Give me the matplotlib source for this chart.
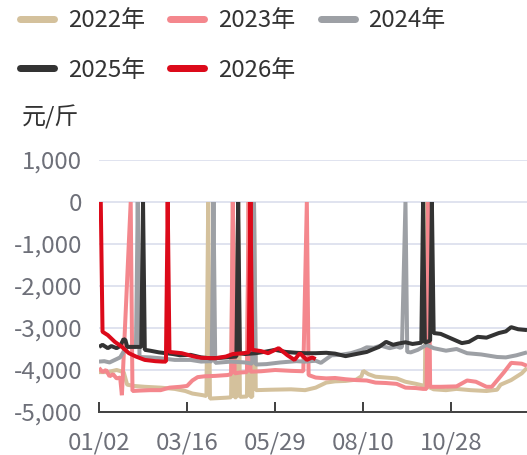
import matplotlib
matplotlib.use('Agg')
import matplotlib.pyplot as plt
from matplotlib.lines import Line2D
from matplotlib.ticker import FuncFormatter

plt.rcParams['font.family'] = ['Noto Sans CJK SC', 'DejaVu Sans']

# ---- data ----
x_labels = ['01/02', '03/16', '05/29', '08/10', '10/28']
x_label_days = [0, 50, 100, 150, 200]
n_days = 244
series_names = ['2022年', '2023年', '2024年', '2025年', '2026年']
y_ticks = [1000, 0, -1000, -2000, -3000, -4000, -5000]

d2022 = [0, 5, 10, 14, 16, 20, 26, 35, 43, 49, 53, 59, 61, 62, 63, 72, 75, 76, 77, 78,
         79, 80, 84, 85, 86, 87, 88, 89, 97, 109, 117, 123, 129, 134, 140, 146, 149, 150, 153, 157,
         163, 169, 174, 180, 183, 185, 186, 187, 190, 197, 203, 211, 220, 226, 228, 234, 240, 243]
v2022 = [-4050, -4050, -4000, -4050, -4350, -4380, -4400, -4420, -4450, -4500,
         -4560, -4600, -4620, 0, -4680, -4660, -4650, 0, -4650, -4650,
         0, -4640, -4630, 0, -4640, -4640, 0, -4480, -4470, -4460,
         -4480, -4420, -4300, -4270, -4260, -4230, -4150, -4020, -4100, -4160,
         -4180, -4200, -4280, -4330, -4360, -4380, 0, -4400, -4460, -4480,
         -4450, -4480, -4500, -4470, -4350, -4240, -4080, -3950]

d2023 = [0, 2, 4, 6, 8, 10, 12, 13, 18, 19, 23, 29, 35, 40, 46, 50, 53, 56, 60, 66,
         73, 75, 76, 77, 80, 84, 85, 86, 92, 100, 109, 116, 118, 119, 123, 129, 134, 140, 146, 152,
         157, 163, 169, 174, 180, 184, 186, 187, 188, 194, 203, 209, 214, 220, 223, 226, 230, 234, 240, 243]
v2023 = [-3950, -4050, -4000, -4150, -4100, -4200, -4180, -4600, 0, -4500,
         -4490, -4480, -4480, -4420, -4400, -4380, -4250, -4170, -4150, -4140,
         -4120, -4100, 0, -4080, -4060, -4050, 0, -4040, -4030, -4000,
         -4020, -4030, 0, -4120, -4180, -4200, -4190, -4220, -4240, -4250,
         -4300, -4310, -4330, -4420, -4430, -4450, -4450, 0, -4400, -4400,
         -4390, -4250, -4280, -4400, -4400, -4250, -4050, -3830, -3850, -3900]

d2024 = [0, 3, 6, 9, 12, 14, 16, 21, 22, 23, 29, 35, 43, 52, 58, 63, 64, 65, 66, 69,
         75, 83, 87, 88, 89, 95, 103, 112, 117, 123, 126, 132, 137, 143, 149, 152, 156, 160, 165, 169,
         171, 172, 174, 175, 177, 181, 186, 190, 197, 203, 209, 217, 226, 231, 237, 243]
v2024 = [-3800, -3790, -3820, -3760, -3700, -3560, -3450, -3450, 0, -3690,
         -3700, -3720, -3760, -3760, -3800, -3790, -3800, 0, -3830, -3820,
         -3800, -3820, -3850, 0, -3870, -3860, -3820, -3790, -3800, -3780,
         -3830, -3650, -3640, -3600, -3520, -3460, -3470, -3420, -3480, -3440,
         -3470, -3450, 0, -3570, -3580, -3520, -3400, -3480, -3540, -3500,
         -3600, -3630, -3690, -3700, -3650, -3580]

d2025 = [0, 2, 5, 7, 10, 12, 14, 15, 16, 24, 25, 26, 29, 34, 38, 42, 46, 52, 58, 63,
         69, 75, 78, 79, 80, 83, 89, 95, 100, 106, 112, 117, 123, 129, 134, 140, 146, 152, 156, 159,
         163, 167, 170, 174, 178, 183, 184, 185, 188, 189, 190, 194, 200, 206, 210, 215, 220, 227, 231, 234,
         238, 243]
v2025 = [-3450, -3400, -3480, -3430, -3480, -3430, -3260, -3290, -3450, -3450,
         0, -3520, -3540, -3580, -3600, -3620, -3650, -3640, -3700, -3720,
         -3710, -3690, -3680, 0, -3600, -3620, -3600, -3560, -3520, -3570,
         -3590, -3600, -3600, -3590, -3610, -3670, -3620, -3570, -3500, -3450,
         -3330, -3400, -3370, -3340, -3380, -3350, 0, -3350, -3300, 0,
         -3120, -3140, -3250, -3360, -3330, -3210, -3230, -3120, -3080, -2980,
         -3030, -3050]

d2026 = [1, 2, 5, 9, 13, 17, 21, 26, 32, 36, 38, 39, 40, 47, 54, 58, 66, 72, 76, 82,
         85, 86, 87, 92, 96, 102, 107, 111, 114, 118, 121, 123]
v2026 = [0, -3090, -3170, -3330, -3450, -3600, -3680, -3760, -3790, -3800,
         -3800, 0, -3570, -3600, -3680, -3710, -3720, -3680, -3620, -3600,
         -3580, 0, -3520, -3550, -3600, -3480, -3650, -3760, -3600, -3760,
         -3700, -3740]

days = [d2022, d2023, d2024, d2025, d2026]
vals = [v2022, v2023, v2024, v2025, v2026]
colors = ['#d4c19c', '#f4878d', '#9da0a5', '#333333', '#dc0a1a']

# ---- figure ----
W, H = 527, 455
fig = plt.figure(figsize=(W / 100, H / 100), dpi=100)
px = 0.72  # points per pixel
fs = 24 * px

ax = fig.add_axes([99 / W, 43 / H, 428 / W, 252 / H])
for d, v, c in zip(days, vals, colors):
    ax.plot(d, v, color=c, lw=4 * px, solid_joinstyle='bevel', solid_capstyle='butt', zorder=3)

ax.set_xlim(0, n_days - 1)
ax.set_ylim(-5000, 1000)
ax.set_yticks(y_ticks)
ax.yaxis.set_major_formatter(FuncFormatter(lambda v, p: f'{int(v):,}'))
ax.set_xticks(x_label_days)
ax.set_xticklabels(x_labels)

for s in ['top', 'right', 'left']:
    ax.spines[s].set_visible(False)
ax.spines['bottom'].set_color('#444444')
ax.spines['bottom'].set_linewidth(2 * px)
ax.yaxis.grid(True, color='#e0e3ef', lw=2 * px, zorder=0)
ax.set_axisbelow(True)
ax.tick_params(axis='y', length=0, pad=17 * px, labelsize=fs, labelcolor='#6e7079')
ax.tick_params(axis='x', direction='in', length=10 * px, width=2 * px, color='#444444',
               pad=19 * px, labelsize=fs, labelcolor='#6e7079')

fig.text(22 / W, 1 - 117 / H, '元/斤', fontsize=fs, color='#333333', ha='left', va='center')

# legend (row-major order via column-major fill)
handles = [Line2D([], [], color=c, lw=7 * px, solid_capstyle='round') for c in colors]
order = [0, 3, 1, 4, 2]
fig.legend([handles[i] for i in order], [series_names[i] for i in order],
           loc='upper left', bbox_to_anchor=(20 / W, 1 - 9 / H), bbox_transform=fig.transFigure,
           ncol=3, frameon=False, borderpad=0, borderaxespad=0,
           handlelength=34 / 24, handletextpad=14 / 24, columnspacing=25 / 24,
           labelspacing=1.12, prop={'size': fs}, labelcolor='#333333')

fig.savefig('out.png', dpi=100)
